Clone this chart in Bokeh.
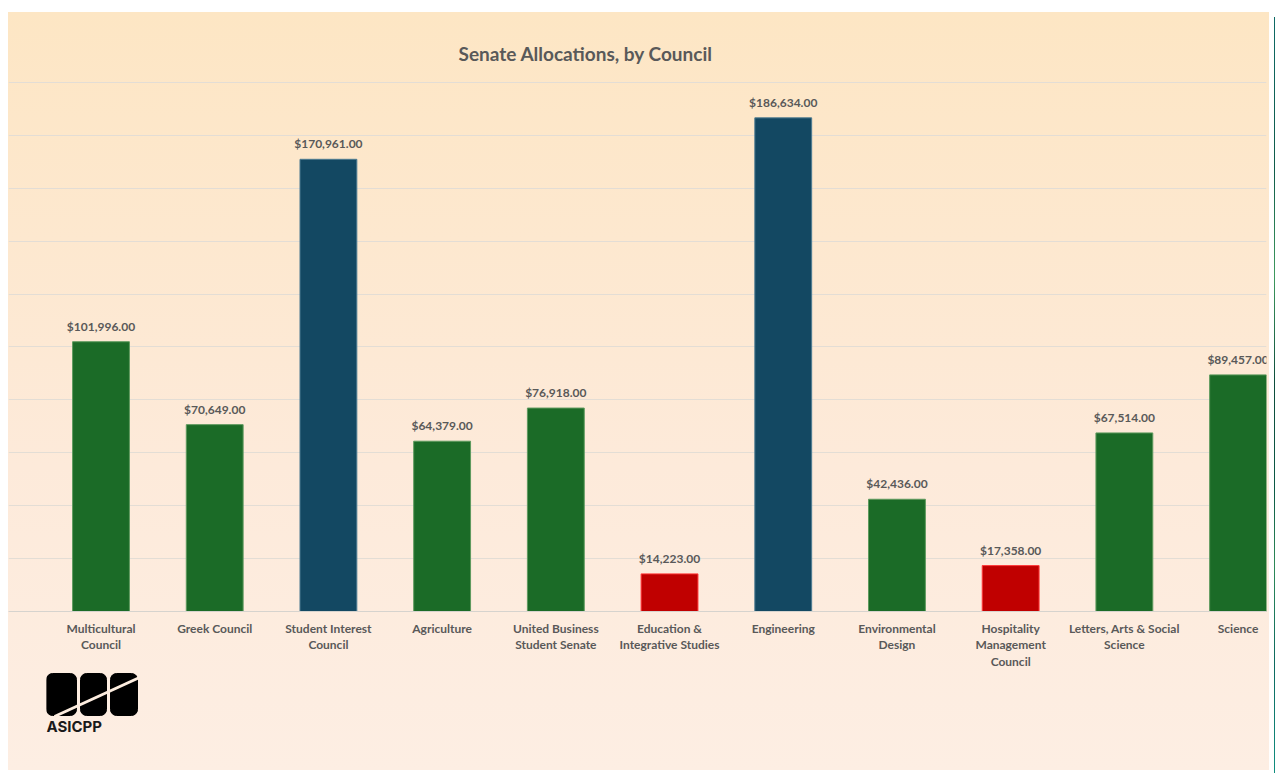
from bokeh.plotting import figure
from bokeh.models import (Range1d, FixedTicker, SingleIntervalTicker, LinearAxis,
                          ColumnDataSource, LabelSet, Label, Spacer, Div)
from bokeh.layouts import column, row
from bokeh.core.properties import value
from bokeh.embed import file_html
from bokeh.resources import INLINE

# ---------------- data ----------------
categories = ["Multicultural Council", "Greek Council", "Student Interest Council",
              "Agriculture", "United Business Student Senate",
              "Education & Integrative Studies", "Engineering",
              "Environmental Design", "Hospitality Management Council",
              "Letters, Arts & Social Science", "Science"]
tick_labels = ["Multicultural\nCouncil", "Greek Council", "Student Interest\nCouncil",
               "Agriculture", "United Business\nStudent Senate",
               "Education &\nIntegrative Studies", "Engineering",
               "Environmental\nDesign", "Hospitality\nManagement\nCouncil",
               "Letters, Arts & Social\nScience", "Science"]
allocations = [101996, 70649, 170961, 64379, 76918, 14223, 186634, 42436, 17358, 67514, 89457]
bar_groups = ["green", "green", "blue", "green", "green", "red", "blue", "green", "red", "green", "green"]

fill_map = {"green": "#1B6B27", "blue": "#134862", "red": "#C00000"}
edge_map = {"green": "#5E9A5E", "blue": "#4E7C92", "red": "#FF3A3A"}

TEXT = "#595959"
FONT = "Lato"

idx = list(range(len(categories)))
src = ColumnDataSource(dict(
    x=idx,
    top=allocations,
    fill=[fill_map[g] for g in bar_groups],
    edge=[edge_map[g] for g in bar_groups],
    label=[f"${v:,.2f}" for v in allocations],
))

p = figure(width=1261, frame_width=1258, frame_height=530,
           output_backend="svg", toolbar_location=None,
           title="Senate Allocations, by Council",
           x_range=Range1d(-0.8135, 10.25), y_range=Range1d(0, 200378),
           min_border_left=0, min_border_right=3, min_border_top=69, min_border_bottom=56,
           x_axis_location=None, y_axis_location=None)
p.border_fill_alpha = 0
p.background_fill_alpha = 0
p.outline_line_color = None

p.title.text_font = FONT
p.title.text_font_style = "bold"
p.title.text_font_size = "19px"
p.title.text_color = TEXT
p.title.align = "left"
p.title.offset = 450
p.title.standoff = 34

xaxis = LinearAxis(ticker=FixedTicker(ticks=idx),
                   major_label_overrides={i: t for i, t in zip(idx, tick_labels)})
xaxis.axis_line_color = "#D6D3CE"
xaxis.axis_line_width = 1
xaxis.major_tick_line_color = None
xaxis.minor_tick_line_color = None
xaxis.major_label_standoff = 3
xaxis.major_label_text_font = FONT
xaxis.major_label_text_font_style = "bold"
xaxis.major_label_text_font_size = "12px"
xaxis.major_label_text_color = TEXT
xaxis.major_label_text_line_height = 1.1
p.add_layout(xaxis, "below")

yaxis = LinearAxis(ticker=SingleIntervalTicker(interval=20000), visible=False)
p.add_layout(yaxis, "left")
p.xgrid.visible = False
p.ygrid.ticker = SingleIntervalTicker(interval=20000)
p.ygrid.grid_line_color = "#E3DDD5"
p.ygrid.grid_line_width = 1

p.vbar(x="x", top="top", bottom=0, width=0.5, source=src,
       fill_color="fill", line_color="edge", line_width=1)

labels = LabelSet(x="x", y="top", text="label", source=src,
                  text_align="center", text_baseline="alphabetic", y_offset=11,
                  text_font=value(FONT), text_font_style="bold", text_font_size="12px",
                  text_color=TEXT)
p.add_layout(labels)

# ---------------- logo ----------------
logo = figure(width=110, height=111, output_backend="svg", toolbar_location=None,
              x_range=Range1d(0, 110), y_range=Range1d(0, 111),
              min_border=0, x_axis_location=None, y_axis_location=None)
logo.border_fill_alpha = 0
logo.background_fill_alpha = 0
logo.outline_line_color = None
logo.grid.visible = False
logo.quad(left=[0, 34, 64], right=[30, 60, 91], bottom=[55, 55, 55], top=[97, 97, 97],
          fill_color="black", line_color="black", border_radius=6)
logo.segment(x0=[8], y0=[54], x1=[93], y1=[93], line_color="#FDEDDF", line_width=3)
logo.add_layout(Label(x=0, y=44, text="ASICPP", text_font="Inter",
                      text_font_size="15px", text_font_style="bold", text_color="#1A1A1A",
                      text_baseline="alphabetic", text_align="left"))

logo_row = row(Spacer(width=38, height=111), logo, margin=(-12, 0, 0, 0))

inner = column(p, logo_row,
               styles={"background": "linear-gradient(180deg, #FDE6C4 0%, #FDEADA 60%, #FDEEE3 100%)"})

strip = Div(width=6, height=761, styles={
    "background": "linear-gradient(180deg, #0E6A66 0%, #0F5C4A 20%, #3E9A5E 34%, #0D4D3C 48%, "
                  "#0B5A46 62%, #2E8A58 72%, #0D6A60 85%, #119081 100%)"})

layout = column(Spacer(width=8, height=12),
                row(Spacer(width=8, height=761), inner, strip))

open("out.html", "w").write(file_html(layout, INLINE))
